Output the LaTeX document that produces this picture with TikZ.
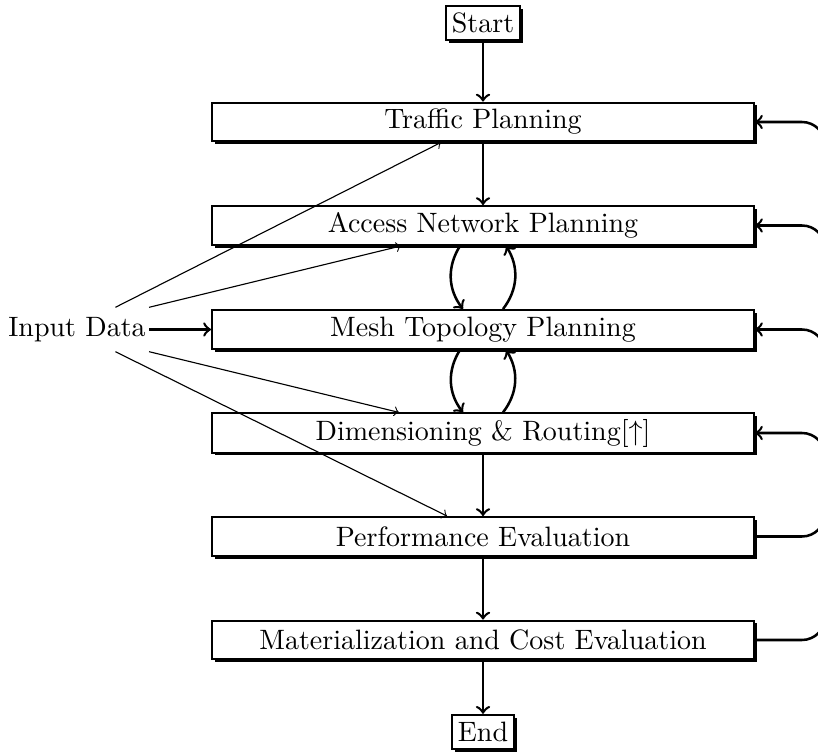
\documentclass[tikz,border=0pt]{standalone}
\usetikzlibrary{calc,shadows}
\begin{document}
\begin{tikzpicture}[x=0.357pt,y=-0.357pt,
  stage/.style={draw, line width=0.7pt, fill=white, minimum width=193.5pt,
    minimum height=13.9pt, inner sep=2pt,
    drop shadow={shadow xshift=1pt, shadow yshift=-1pt, fill=black, opacity=1}},
  term/.style={stage, minimum width=0pt, minimum height=12.3pt},
  flow/.style={->, line width=0.9pt},
  feed/.style={line width=0.9pt},
  inarrow/.style={->, line width=0.4pt}]
\useasboundingbox (0,0) rectangle (818,753);
\clip (0,0) rectangle (818,753);

% process stages
\node[term]  (start)   at (483,23)    {Start};
\node[stage] (traffic) at (483,122)   {Traffic Planning};
\node[stage] (access)  at (483,225.5) {Access Network Planning};
\node[stage] (mesh)    at (483,329.5) {Mesh Topology Planning};
\node[stage] (dim)     at (483,433)   {Dimensioning \& Routing[$\uparrow$]};
\node[stage] (perf)    at (483,536.5) {Performance Evaluation};
\node[stage] (mat)     at (483,640)   {Materialization and Cost Evaluation};
\node[term]  (end)     at (483,732)   {End};
\node[inner xsep=1pt, minimum height=13.9pt] (input) at (77,329.5) {Input Data};

% main flow
\draw[flow] (start) -- (traffic);
\draw[flow] (traffic) -- (access);
\draw[flow] (dim) -- (perf);
\draw[flow] (perf) -- (mat);
\draw[flow] (mat) -- (end);

% iterations between neighbouring stages
\draw[flow] ($(access.south)+(-23,0)$) to[bend right=35] ($(mesh.north)+(-20,0)$);
\draw[flow] ($(mesh.north)+(20,0)$) to[bend right=35] ($(access.south)+(23,0)$);
\draw[flow] ($(mesh.south)+(-23,0)$) to[bend right=35] ($(dim.north)+(-20,0)$);
\draw[flow] ($(dim.north)+(20,0)$) to[bend right=35] ($(mesh.south)+(23,0)$);

% input data
\draw[flow] (input.east) -- (mesh.west);
\draw[inarrow] (input.30) -- ($(traffic.south)+(-42,0)$);
\draw[inarrow] (input.north east) -- ($(access.south)+(-82,0)$);
\draw[inarrow] (input.south east) -- ($(dim.north)+(-84,0)$);
\draw[inarrow] (input.-30) -- ($(perf.north)+(-36,0)$);

% feedback on the right: returns into the planning stages
\foreach \b in {traffic,access,mesh,dim} {
  \coordinate (\b-ret) at ($(\b.east)+(70,23)$);
  \draw[feed,->] (\b-ret) .. controls +(0,-12.7) and +(12.7,0) .. ($(\b.east)+(47,0)$) -- (\b.east);
}
% feedback leaving the evaluation stages
\foreach \b in {perf,mat} {
  \coordinate (\b-out) at ($(\b.east)+(70,-23)$);
  \draw[feed] (\b.east) -- ($(\b.east)+(47,0)$) .. controls +(12.7,0) and +(0,12.7) .. (\b-out);
}
\end{tikzpicture}
\end{document}
